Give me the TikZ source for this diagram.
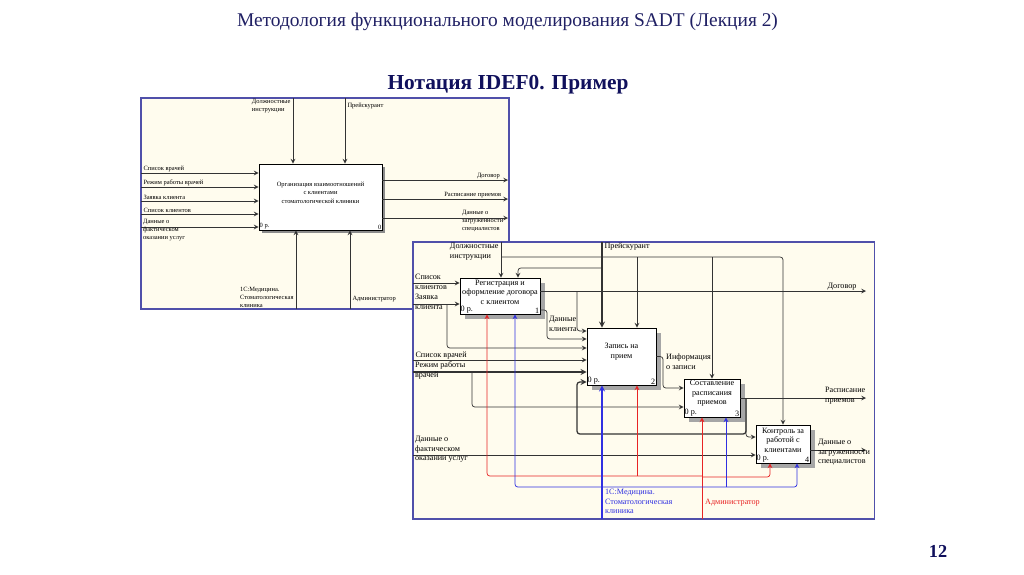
\documentclass[tikz,border=0pt]{standalone}
\usepackage{fontspec}
\setmainfont{Liberation Serif}
\usetikzlibrary{arrows,positioning,shadows}

\definecolor{navy}{RGB}{16,16,92}
\definecolor{titleblue}{RGB}{32,32,100}
\definecolor{paper}{RGB}{255,252,238}
\definecolor{framecol}{RGB}{80,80,170}
\definecolor{mechred}{RGB}{232,36,36}
\definecolor{mechblue}{RGB}{48,48,225}

\begin{document}
\begin{tikzpicture}[
    x=0.025cm, y=-0.025cm,
    >=stealth,
    frame/.style={rectangle, draw=framecol, fill=paper, line width=0.8pt, inner sep=0pt},
    abox/.style={rectangle, draw=black, fill=white, line width=0.6pt, inner sep=0pt, drop shadow={shadow xshift=0.07cm, shadow yshift=-0.07cm, fill=black!45, opacity=1}},
    fbox/.style={rectangle, draw=black, fill=white, line width=0.6pt, inner sep=0pt, drop shadow={shadow xshift=0.12cm, shadow yshift=-0.12cm, fill=black!35, opacity=1}},
    d1lab/.style={font=\fontsize{4.6}{5.8}\selectfont, inner sep=0.6pt, align=left},
    d2lab/.style={font=\fontsize{5.8}{6.9}\selectfont, inner sep=0.6pt, align=left},
    boxtxt/.style={font=\fontsize{5.8}{6.9}\selectfont, align=center, inner sep=0pt},
    arr/.style={->, draw=black!80, line width=0.5pt, rounded corners=2pt},
    thickarr/.style={arr, line width=0.9pt},
    redarr/.style={arr, draw=mechred},
    bluearr/.style={arr, draw=mechblue}
]
\fill[white] (0,0) rectangle (1024,574);
\useasboundingbox (0,0) rectangle (1024,574);

% Slide titles
\node[font=\fontsize{13.8}{16}\selectfont, text=titleblue] (title) at (507.5,22) {Методология функционального моделирования SADT (Лекция 2)};
\node[font=\fontsize{15.2}{18}\selectfont\bfseries, text=navy] (heading) at (508,85) {Нотация IDEF0. Пример};
\node[font=\fontsize{13}{15}\selectfont\bfseries, text=navy] (pagenum) at (938,551) {12};

% ---------- Context diagram A-0 ----------
\node[frame, minimum width=9.2cm, minimum height=5.275cm] (f1) at (325,203.5) {};
\node[abox, minimum width=3.075cm, minimum height=1.65cm] (a0) at (320.5,197) {};
\node[font=\fontsize{4.6}{5.8}\selectfont, align=center] (a0t) at ([yshift=3pt]a0.center) {Организация взаимоотношений\\с клиентами\\стоматологической клиники};
\node[d1lab, anchor=south west] (a0n) at (a0.south west) {0 р.};
\node[d1lab, anchor=south east] (a0k) at (a0.south east) {0};

% inputs
\coordinate (ain1) at (141,173);
\coordinate (ain2) at (141,187);
\coordinate (ain3) at (141,201);
\coordinate (ain4) at (141,214);
\coordinate (ain5) at (141,227);
\draw[arr] (ain1) -- (ain1 -| a0.west);
\draw[arr] (ain2) -- (ain2 -| a0.west);
\draw[arr] (ain3) -- (ain3 -| a0.west);
\draw[arr] (ain4) -- (ain4 -| a0.west);
\draw[arr] (ain5) -- (ain5 -| a0.west);
\node[d1lab, anchor=south west] (ainl1) at ([xshift=1pt]ain1) {Список врачей};
\node[d1lab, anchor=south west] (ainl2) at ([xshift=1pt]ain2) {Режим работы врачей};
\node[d1lab, anchor=south west] (ainl3) at ([xshift=1pt]ain3) {Заявка клиента};
\node[d1lab, anchor=south west] (ainl4) at ([xshift=1pt]ain4) {Список клиентов};
\node[d1lab, anchor=north west] (ainl5) at (142,218) {Данные о\\фактическом\\оказании услуг};

% outputs
\coordinate (aout1) at (508,180);
\coordinate (aout2) at (508,199);
\coordinate (aout3) at (508,218);
\draw[arr] (aout1 -| a0.east) -- (aout1);
\draw[arr] (aout2 -| a0.east) -- (aout2);
\draw[arr] (aout3 -| a0.east) -- (aout3);
\node[d1lab, anchor=south east] (aoutl1) at ([xshift=-5pt]aout1) {Договор};
\node[d1lab, anchor=south east] (aoutl2) at ([xshift=-4pt]aout2) {Расписание приемов};
\node[d1lab, anchor=north west] (aoutl3) at (461,209) {Данные о\\загруженности\\специалистов};

% controls
\coordinate (actl1) at (293,98);
\coordinate (actl2) at (345,98);
\draw[arr] (actl1) -- (actl1 |- a0.north);
\draw[arr] (actl2) -- (actl2 |- a0.north);
\node[d1lab, anchor=north east] (actll1) at ([xshift=-1pt]actl1) {Должностные\\инструкции};
\node[d1lab, anchor=north west] (actll2) at ([xshift=1pt,yshift=-3pt]actl2) {Прейскурант};

% mechanisms
\coordinate (amech1) at (296,309);
\coordinate (amech2) at (350,309);
\draw[arr] (amech1) -- (amech1 |- a0.south);
\draw[arr] (amech2) -- (amech2 |- a0.south);
\node[d1lab, anchor=south east] (amechl1) at ([xshift=-1pt]amech1) {1С:Медицина.\\Стоматологическая\\клиника};
\node[d1lab, anchor=south west] (amechl2) at ([xshift=1pt,yshift=4pt]amech2) {Администратор};

% ---------- Decomposition A0 ----------
\node[frame, minimum width=11.525cm, minimum height=6.925cm] (f2) at (643.5,380.5) {};

\node[fbox, minimum width=2cm, minimum height=0.9cm] (b1) at (500,296) {};
\node[fbox, minimum width=1.725cm, minimum height=1.425cm] (b2) at (621.5,356.5) {};
\node[fbox, minimum width=1.4cm, minimum height=0.95cm] (b3) at (712,398) {};
\node[fbox, minimum width=1.35cm, minimum height=0.95cm] (b4) at (783,444) {};
\node[boxtxt] (b1t) at ([yshift=2.8pt]b1.center) {Регистрация и\\оформление договора\\с клиентом};
\node[boxtxt] (b2t) at ([yshift=3.2pt]b2.center) {Запись на\\прием};
\node[boxtxt] (b3t) at ([yshift=3.4pt]b3.center) {Составление\\расписания\\приемов};
\node[boxtxt] (b4t) at ([yshift=2.8pt]b4.center) {Контроль за\\работой с\\клиентами};
\node[d2lab, anchor=south west] (b1n) at (b1.south west) {0 р.};
\node[d2lab, anchor=south east] (b1k) at (b1.south east) {1};
\node[d2lab, anchor=south west] (b2n) at (b2.south west) {0 р.};
\node[d2lab, anchor=south east] (b2k) at (b2.south east) {2};
\node[d2lab, anchor=south west] (b3n) at (b3.south west) {0 р.};
\node[d2lab, anchor=south east] (b3k) at (b3.south east) {3};
\node[d2lab, anchor=south west] (b4n) at (b4.south west) {0 р.};
\node[d2lab, anchor=south east] (b4k) at (b4.south east) {4};

% controls
\coordinate (dolzh) at (501,242);
\coordinate (dolzhbus) at (501,257);
\coordinate (dolzh2) at (637,257);
\draw[arr] (dolzh) -- (dolzh |- b1.north);
\draw[arr] (dolzhbus) -| (b4.north);
\draw[arr] (dolzh2) -- (dolzh2 |- b2.north);
\draw[arr] (b3.north |- dolzhbus) -- (b3.north);
\node[d2lab, anchor=north east] (dolzhl) at ([xshift=-1pt]dolzh) {Должностные\\инструкции};

\coordinate (preis) at (602,242);
\coordinate (preisbus) at (602,268);
\coordinate (preis1) at (518,268);
\draw[thickarr] (preis) -- (preis |- b2.north);
\draw[arr] (preisbus) -| (preis1 |- b1.north);
\node[d2lab, anchor=north west] (preisl) at ([xshift=1pt]preis) {Прейскурант};

% inputs
\coordinate (spkl) at (413,283);
\coordinate (zayav) at (413,304);
\coordinate (zayav2) at (447,304);
\coordinate (zayav3) at (447,348);
\draw[arr] (spkl) -- (spkl -| b1.west);
\draw[arr] (zayav) -- (zayav -| b1.west);
\draw[arr] (zayav2) |- (zayav3 -| b2.west);
\node[d2lab, anchor=north west] (spkll) at (414,273) {Список\\клиентов};
\node[d2lab, anchor=north west] (zayavl) at (414,293) {Заявка\\клиента};

\coordinate (spvr) at (413,360);
\coordinate (rezhim) at (413,372);
\coordinate (rezhim2) at (472,372);
\coordinate (rezhim3) at (472,407);
\draw[arr] (spvr) -- (spvr -| b2.west);
\draw[thickarr] (rezhim) -- (rezhim -| b2.west);
\draw[arr] (rezhim2) |- (rezhim3 -| b3.west);
\node[d2lab, anchor=south west] (spvrl) at ([xshift=1pt]spvr) {Список врачей};
\node[d2lab, anchor=north west] (rezhiml) at (414,361) {Режим работы\\врачей};

\coordinate (fakt) at (413,455);
\draw[arr] (fakt) -- (fakt -| b4.west);
\node[d2lab, anchor=north west] (faktl) at (414,435) {Данные о\\фактическом\\оказании услуг};

% outputs and internal arrows
\coordinate (dogovor) at (866,291);
\draw[arr] (dogovor -| b1.east) -- (dogovor);
\node[d2lab, anchor=south east] (dogovorl) at ([xshift=-6pt]dogovor) {Договор};

\coordinate (dk1) at (547,310);
\coordinate (dk1e) at (547,339);
\coordinate (dk2) at (577,291);
\coordinate (dk2e) at (577,331);
\draw[arr] (b1.east |- dk1) -| (dk1e) -- (dk1e -| b2.west);
\draw[arr] (dk2) |- (dk2e -| b2.west);
\node[d2lab, anchor=north west] (dkl) at (548,315) {Данные\\клиента};

\coordinate (info) at (663,388);
\draw[arr] (b2.east) -| (info) -- (info -| b3.west);
\node[d2lab, anchor=north west] (infol) at (665,353) {Информация\\о записи};

\coordinate (rasp) at (866,398);
\draw[arr] (rasp -| b3.east) -- (rasp);
\node[d2lab, anchor=north west] (raspl) at (824,386.5) {Расписание\\приемов};

\coordinate (fb) at (746,398);
\coordinate (fbbus) at (577,434);
\coordinate (fb2) at (577,382);
\coordinate (fb4) at (746,437);
\draw[thickarr] (fb) |- (fbbus) |- (fb2 -| b2.west);
\draw[arr] (fb) |- (fb4 -| b4.west);

\coordinate (zagr) at (866,450);
\draw[arr] (zagr -| b4.east) -- (zagr);
\node[d2lab, anchor=north west] (zagrl) at (817,438) {Данные о\\загруженности\\специалистов};

% mechanisms
\coordinate (admin) at (702,519);
\coordinate (adm1) at (487,476);
\coordinate (adm2) at (637,476);
\coordinate (adm4) at (770,477);
\draw[redarr] (admin) -- (admin |- b3.south);
\draw[redarr] (admin |- adm1) -| (adm1 |- b1.south);
\draw[redarr] (adm2) -- (adm2 |- b2.south);
\draw[redarr] (admin |- adm4) -| (adm4 |- b4.south);
\node[d2lab, text=mechred, anchor=west] (adminl) at (704,503) {Администратор};

\coordinate (med) at (602,519);
\coordinate (med1) at (515,487);
\coordinate (med3) at (726,487);
\coordinate (med4) at (797,487);
\draw[bluearr, line width=0.9pt] (med) -- (med |- b2.south);
\draw[bluearr] (med |- med1) -| (med1 |- b1.south);
\draw[bluearr] (med3) -- (med3 |- b3.south);
\draw[bluearr] (med |- med4) -| (med4 |- b4.south);
\node[d2lab, text=mechblue, anchor=north west] (medl) at (604,488) {1С:Медицина.\\Стоматологическая\\клиника};

\end{tikzpicture}
\end{document}
